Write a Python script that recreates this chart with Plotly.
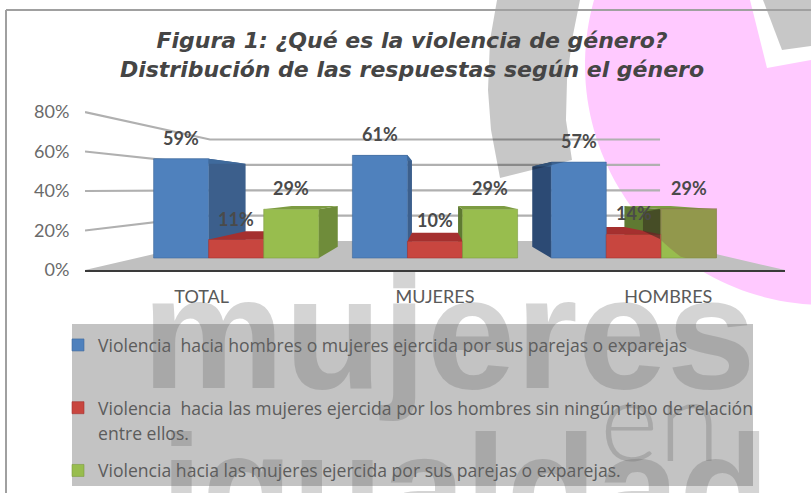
import numpy as np
import plotly.graph_objects as go

categories = ["TOTAL", "MUJERES", "HOMBRES"]
series_names = [
    "Violencia  hacia hombres o mujeres ejercida por sus parejas o exparejas",
    "Violencia  hacia las mujeres ejercida por los hombres sin ningún tipo de relación",
    "Violencia hacia las mujeres ejercida por sus parejas o exparejas.",
]
legend_continuation = [" ", "entre ellos.", None]
blue_values = [59, 61, 57]
red_values = [11, 10, 14]
green_values = [29, 29, 29]
y_ticks = [0, 20, 40, 60, 80]
y_tick_labels = ["0%", "20%", "40%", "60%", "80%"]

series_values = [blue_values, red_values, green_values]
front_colors = ["#4f81bd", "#c8463f", "#98bd4e"]
top_colors = ["#3f6a9c", "#a5302f", "#7d9c42"]
side_colors = ["#3c5f8c", "#8f2a28", "#6f8c3a"]
side_colors_right = ["#2c4a74", "#8f2a28", "#5f7a32"]

W, H = 811, 493
L, R, T, B = 85, 785, 100, 270
PX_PER_UNIT = 1.975
VP_VALUE = 41.0          # vanishing point height, in value units
FRONT, BACK, WALL = 0.852, 0.713, 0.643   # perspective scales of the depth planes
BAR_W = 0.277
Y_TOP = (B - T) / PX_PER_UNIT


def project(x, v, s):
    return 1 + (x - 1) * s, VP_VALUE + (v - VP_VALUE) * s


def px(x):
    return (x - L) / (R - L)


def py(y):
    return (B - y) / (B - T)


def poly_path(pts):
    return "M" + "L".join(f"{px(a):.4f},{py(b):.4f}" for a, b in pts) + "Z"


fig = go.Figure()


def add_poly(pts, color, line=None, width=0):
    xs, ys = zip(*pts)
    fig.add_trace(go.Scatter(
        x=list(xs) + [xs[0]], y=list(ys) + [ys[0]], mode="lines", fill="toself",
        fillcolor=color, line=dict(color=line or color, width=width),
        showlegend=False, hoverinfo="skip", xaxis="x", yaxis="y"))


# floor
add_poly([project(-0.5, 0, 1), project(2.5, 0, 1), project(2.5, 0, WALL), project(-0.5, 0, WALL)], "#c0c0c0")

# gridlines: side wall and back wall
for t in y_ticks[1:]:
    a = project(-0.5, t, 1)
    b = project(-0.5, t, WALL)
    c = project(2.5, t, WALL)
    fig.add_trace(go.Scatter(
        x=[a[0], b[0], c[0]], y=[a[1], b[1], c[1]], mode="lines",
        line=dict(color="#b0b0b0", width=2.2), showlegend=False, hoverinfo="skip"))

# bar depth faces, painted from outermost to innermost
faces = []
for i in range(3):
    for j in range(3):
        x0 = i + (j - 1.5) * BAR_W
        x1 = i + (j - 0.5) * BAR_W
        faces.append((abs((x0 + x1) / 2 - 1), x0, x1, series_values[j][i], j))
faces.sort(key=lambda f: -f[0])
for _, x0, x1, v, j in faces:
    if x1 < 1:
        add_poly([project(x1, 0, FRONT), project(x1, v, FRONT), project(x1, v, BACK), project(x1, 0, BACK)], side_colors[j])
    elif x0 > 1:
        add_poly([project(x0, 0, FRONT), project(x0, v, FRONT), project(x0, v, BACK), project(x0, 0, BACK)], side_colors_right[j])
    add_poly([project(x0, v, FRONT), project(x1, v, FRONT), project(x1, v, BACK), project(x0, v, BACK)], top_colors[j])

# front faces
for j in range(3):
    fig.add_trace(go.Bar(
        x=[0, 1, 2], y=series_values[j], name=series_names[j], xaxis="x2", yaxis="y2",
        marker=dict(color=front_colors[j], line=dict(color=top_colors[j], width=0.6)),
        legendgroup=f"g{j}", hoverinfo="skip"))
    if legend_continuation[j] is not None:
        fig.add_trace(go.Scatter(
            x=[None], y=[None], name=legend_continuation[j], xaxis="x2", yaxis="y2",
            mode="lines", line=dict(color="rgba(0,0,0,0)", width=0),
            legendgroup=f"g{j}", hoverinfo="skip"))

# ---- watermark artwork (decoration)
cx, cy, r = 825, 65, 240


def circle_bottom(x):
    return cy + np.sqrt(r * r - (cx - x) ** 2)


arc = [(cx + r * np.cos(t), cy - r * np.sin(t)) for t in np.linspace(np.radians(164), np.radians(274), 60)]
pink = [(596, 0)] + arc + [(811, 305), (811, 60), (767, 68), (750, 0)]

# green HOMBRES bar seen through the pink watermark
gx = np.linspace(660, 717, 12)
green_tint = [(660, 208), (717, 208)] + [(x, min(circle_bottom(x), 258)) for x in gx[::-1]]
side_tint = [(660, 209), (643, 212), (643, 231), (660, 239)]

shapes = [
    dict(type="path", xref="paper", yref="paper", layer="below", line_width=0,
         fillcolor="#ffc9ff", path=poly_path(pink)),
    dict(type="path", xref="paper", yref="paper", layer="above", line_width=0,
         fillcolor="rgba(140,110,75,0.46)", path=poly_path(green_tint)),
    dict(type="path", xref="paper", yref="paper", layer="above", line_width=0,
         fillcolor="rgba(50,40,30,0.55)", path=poly_path(side_tint)),
    dict(type="path", xref="paper", yref="paper", layer="above", line_width=0,
         fillcolor="rgba(0,0,0,0.22)",
         path=poly_path([(497, 0), (490, 40), (488, 90), (491, 130), (500, 178), (572, 160),
                         (566, 120), (567, 80), (572, 40), (580, 0)])),
    dict(type="path", xref="paper", yref="paper", layer="above", line_width=0,
         fillcolor="rgba(0,0,0,0.22)",
         path=poly_path([(763, 0), (782, 50), (811, 46), (811, 0)])),
    # legend panel
    dict(type="rect", xref="paper", yref="paper", layer="above", line_width=0,
         fillcolor="rgba(130,130,130,0.48)", x0=px(72), x1=px(753), y0=py(486), y1=py(324)),
    # frame
    dict(type="line", xref="paper", yref="paper", layer="above", x0=px(6), x1=px(811), y0=py(10), y1=py(10),
         line=dict(color="#a0a0a0", width=2)),
    dict(type="line", xref="paper", yref="paper", layer="above", x0=px(6), x1=px(6), y0=py(10), y1=py(493),
         line=dict(color="#a0a0a0", width=2)),
]

WM = "rgba(100,100,100,0.28)"
annotations = [
    dict(text="<b>mujeres</b>", xref="paper", yref="paper", x=px(449), y=py(332), xanchor="center", yanchor="middle",
         showarrow=False, font=dict(family="Liberation Sans", size=160, color=WM)),
    dict(text="en", xref="paper", yref="paper", x=px(660), y=py(417), xanchor="center", yanchor="middle",
         showarrow=False, font=dict(family="Lato Light, Lato", size=112, color=WM)),
    dict(text="<b>igualdad</b>", xref="paper", yref="paper", x=px(465), y=py(487), xanchor="center", yanchor="middle",
         showarrow=False, font=dict(family="Liberation Sans", size=148, color=WM)),
]
# data labels
for j in range(3):
    for i in range(3):
        annotations.append(dict(
            text=f"<b>{series_values[j][i]}%</b>", xref="x2", yref="y2",
            x=i + (j - 1) * BAR_W, y=series_values[j][i], yshift=21, xanchor="center", yanchor="middle",
            showarrow=False, font=dict(family="Lato", size=18, color="#4a4a4a")))

fig.update_layout(
    width=W, height=H, autosize=False,
    margin=dict(l=L, r=W - R, t=T, b=H - B, pad=0, autoexpand=False),
    paper_bgcolor="white", plot_bgcolor="rgba(0,0,0,0)",
    barmode="group", bargap=1 - 3 * BAR_W, bargroupgap=0,
    title=dict(
        text="<b><i>Figura 1: ¿Qué es la violencia de género?<br>Distribución de las respuestas según el género</i></b>",
        x=412 / W, xanchor="center", y=1 - 48 / H, yanchor="middle",
        font=dict(family="DejaVu Sans", size=22, color="#454545")),
    xaxis=dict(range=[-0.5, 2.5], tickmode="array", tickvals=[0, 1, 2], ticktext=categories,
               showgrid=False, zeroline=False, showline=True, linecolor="#3a3a3a", linewidth=2,
               ticks="outside", ticklen=9, tickcolor="rgba(0,0,0,0)",
               tickfont=dict(family="Lato", size=18, color="#5a5a5a")),
    yaxis=dict(range=[0, Y_TOP], tickmode="array", tickvals=y_ticks, ticktext=y_tick_labels,
               showgrid=False, zeroline=False, showline=False,
               ticks="outside", ticklen=11, tickcolor="rgba(0,0,0,0)",
               tickfont=dict(family="Lato", size=18, color="#6a6a6a")),
    xaxis2=dict(overlaying="x", anchor="y2", range=[1 - 1.5 / FRONT, 1 + 1.5 / FRONT], visible=False),
    yaxis2=dict(overlaying="y", anchor="x2",
                range=[VP_VALUE - VP_VALUE / FRONT, VP_VALUE + (Y_TOP - VP_VALUE) / FRONT], visible=False),
    legend=dict(x=px(58), y=py(327), xanchor="left", yanchor="top", bgcolor="rgba(0,0,0,0)",
                orientation="v", traceorder="grouped", tracegroupgap=11,
                font=dict(family="Open Sans", size=17.6, color="#5c5c5c")),
    shapes=shapes, annotations=annotations,
)
fig.write_html("out.html", config={"displayModeBar": False},
               post_script="document.body.style.margin='0';document.body.style.overflow='hidden';")
